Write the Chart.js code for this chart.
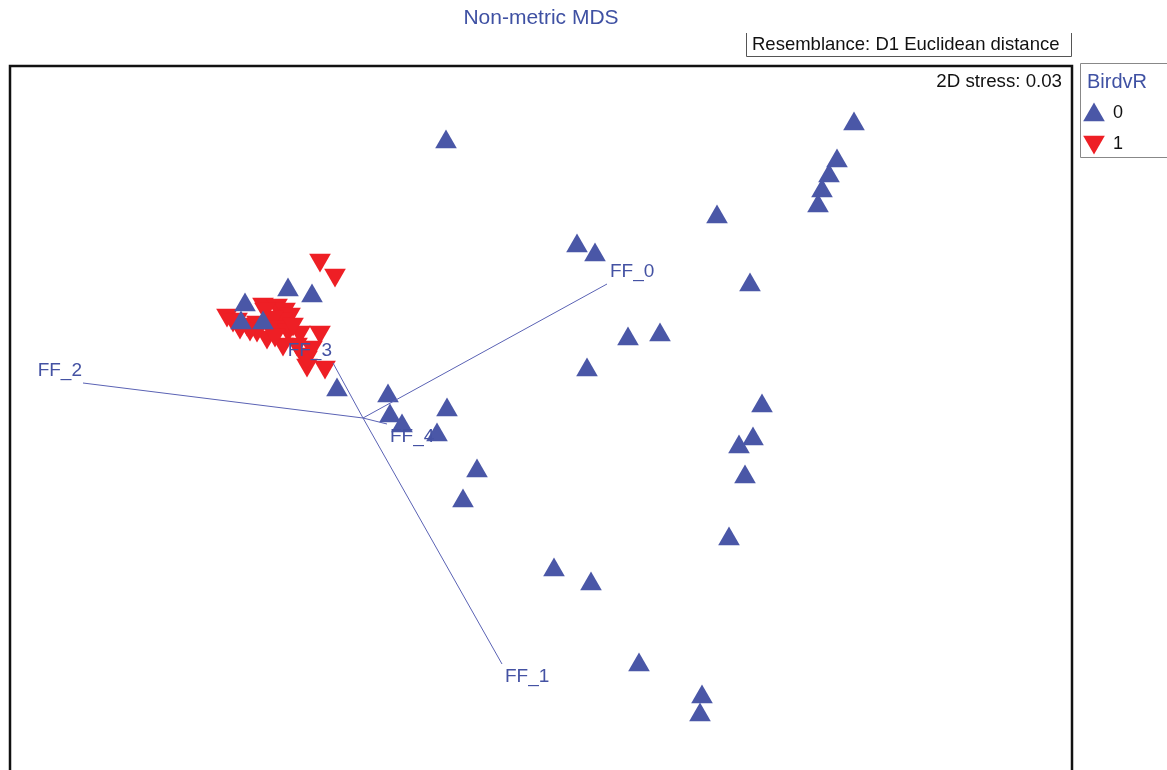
<!DOCTYPE html>
<html>
<head>
<meta charset="utf-8">
<title>Non-metric MDS</title>
<script src="https://cdn.jsdelivr.net/npm/chart.js@4.4.1/dist/chart.umd.min.js"></script>
<style>
body{margin:0;background:#fff;}
canvas{display:block;}
</style>
</head>
<body>
<canvas id="grafico" width="1167" height="770"></canvas>
<script>
// dados (coordenadas MDS)
const grupos = ["0", "1"];

const mds1_g0 = [-0.95, 3.13, 2.96, 2.88, 2.81, 2.77, 1.76, 0.36, 0.54, 2.09, 0.87, 1.19, 0.46, 2.21, 2.12, 1.98, 2.04, 1.88,
    0.13, 0.50, 0.98, 1.61, 1.59, -1.53, -0.94, -1.51, -1.39, -1.04, -0.64, -0.78, -2.04, -2.53, -2.29, -2.96, -3.00, -2.78];
const mds2_g0 = [2.76, 2.94, 2.57, 2.42, 2.27, 2.12, 2.01, 1.72, 1.63, 1.33, 0.79, 0.83, 0.48, 0.12, -0.21, -0.29, -0.59, -1.21,
    -1.52, -1.66, -2.47, -2.79, -2.97, 0.22, 0.08, 0.02, -0.08, -0.17, -0.53, -0.83, 0.28, 1.28, 1.22, 1.13, 0.95, 0.95];

const mds1_g1 = [-2.21, -2.06, -3.14, -3.04, -2.94, -2.78, -2.84, -2.64, -2.56, -2.51, -2.59, -2.68, -2.74, -2.84, -2.64, -2.53,
    -2.41, -2.21, -2.44, -2.38, -2.34, -2.16, -2.58, -2.66, -2.91, -3.01, -3.08, -2.48, -2.34, -2.76, -2.29];
const mds2_g1 = [1.58, 1.43, 1.03, 0.99, 0.94, 1.14, 0.96, 1.13, 1.09, 1.04, 0.99, 1.01, 0.81, 0.88, 0.91, 0.88,
    0.86, 0.86, 0.74, 0.64, 0.53, 0.51, 0.74, 0.83, 0.89, 0.91, 0.98, 0.94, 0.61, 1.09, 0.71];

// vetores (FF_0 ... FF_4)
const vetores = ["FF_0", "FF_1", "FF_2", "FF_3", "FF_4"];
const vetorX = [0.66, -0.39, -4.58, -2.08, -1.54];
const vetorY = [1.34, -2.46, 0.35, 0.55, -0.06];
const centroVetores = [-1.78, 0.00];

const azul = '#4a57a7';
const vermelho = '#ee1f25';
const fonte = '"Liberation Sans", Arial, Helvetica, sans-serif';

function pontos(xs, ys){
    return xs.map(function(x, i){ return {x: x, y: ys[i]}; });
}

function triangulo(ctx, x, y, r, cor, invertido){
    ctx.save();
    ctx.translate(x, y);
    if(invertido) ctx.rotate(Math.PI);
    ctx.beginPath();
    ctx.moveTo(0, -r);
    ctx.lineTo(Math.sin(2*Math.PI/3)*r, r/2);
    ctx.lineTo(-Math.sin(2*Math.PI/3)*r, r/2);
    ctx.closePath();
    ctx.fillStyle = cor;
    ctx.fill();
    ctx.restore();
}

let datasets = [];

vetores.forEach(function(nome, i){
    datasets.push({
        type: 'line',
        label: nome,
        data: [{x: centroVetores[0], y: centroVetores[1]}, {x: vetorX[i], y: vetorY[i]}],
        borderColor: '#5a62b4',
        borderWidth: 1,
        pointRadius: 0,
        fill: false,
        order: 0
    });
});

datasets.push({
    label: grupos[0],
    data: pontos(mds1_g0, mds2_g0),
    backgroundColor: azul,
    borderWidth: 0,
    pointStyle: 'triangle',
    pointRadius: 12.5,
    order: 1
});

datasets.push({
    label: grupos[1],
    data: pontos(mds1_g1, mds2_g1),
    backgroundColor: vermelho,
    borderWidth: 0,
    pointStyle: 'triangle',
    pointRotation: 180,
    pointRadius: 12.5,
    order: 2
});

const extras = {
    id: 'extras',
    afterDatasetsDraw(chart){
        const ctx = chart.ctx;
        const xs = chart.scales.x, ys = chart.scales.y;
        ctx.save();
        ctx.font = '19px ' + fonte;
        ctx.fillStyle = '#4452a3';
        vetores.forEach(function(nome, i){
            let px = xs.getPixelForValue(vetorX[i]);
            let py = ys.getPixelForValue(vetorY[i]);
            let dx = vetorX[i] - centroVetores[0];
            let dy = vetorY[i] - centroVetores[1];
            ctx.textAlign = dx >= 0 ? 'left' : 'right';
            if(dy >= 0){
                ctx.textBaseline = 'bottom';
                ctx.fillText(nome, px + (dx >= 0 ? 3 : -1), py - 3);
            }else{
                ctx.textBaseline = 'top';
                ctx.fillText(nome, px + 3, py + 3);
            }
        });
        ctx.restore();
    },
    afterDraw(chart){
        const ctx = chart.ctx;
        const a = chart.chartArea;
        ctx.save();

        // caixa do grafico
        ctx.strokeStyle = '#111';
        ctx.lineWidth = 2.5;
        ctx.beginPath();
        ctx.moveTo(a.left, chart.height + 5);
        ctx.lineTo(a.left, a.top);
        ctx.lineTo(a.right, a.top);
        ctx.lineTo(a.right, chart.height + 5);
        ctx.stroke();

        // titulo
        ctx.fillStyle = '#3f51a3';
        ctx.font = '21px ' + fonte;
        ctx.textAlign = 'center';
        ctx.textBaseline = 'middle';
        ctx.fillText('Non-metric MDS', (a.left + a.right) / 2, 18);

        // caixa resemblance
        ctx.strokeStyle = '#555';
        ctx.lineWidth = 1;
        ctx.beginPath();
        ctx.moveTo(746.5, 33);
        ctx.lineTo(746.5, 56.5);
        ctx.lineTo(1071.5, 56.5);
        ctx.lineTo(1071.5, 33);
        ctx.stroke();
        ctx.fillStyle = '#111';
        ctx.font = '18.5px ' + fonte;
        ctx.textAlign = 'left';
        ctx.fillText('Resemblance: D1 Euclidean distance', 752, 45);

        // stress
        ctx.textAlign = 'right';
        ctx.font = '18.7px ' + fonte;
        ctx.fillText('2D stress: 0.03', a.right - 10, 82);

        // legenda
        ctx.strokeStyle = '#888';
        ctx.beginPath();
        ctx.moveTo(1180, 63.5);
        ctx.lineTo(1080.5, 63.5);
        ctx.lineTo(1080.5, 157.5);
        ctx.lineTo(1180, 157.5);
        ctx.stroke();
        ctx.fillStyle = '#3f51a3';
        ctx.font = '20px ' + fonte;
        ctx.textAlign = 'left';
        ctx.fillText('BirdvR', 1087, 82);
        triangulo(ctx, 1094, 115, 12.5, azul, false);
        triangulo(ctx, 1094, 142, 12.5, vermelho, true);
        ctx.fillStyle = '#111';
        ctx.font = '18px ' + fonte;
        ctx.fillText(grupos[0], 1113, 113);
        ctx.fillText(grupos[1], 1113, 144);

        ctx.restore();
    }
};

new Chart(document.getElementById('grafico'), {
    type: 'scatter',
    data: { datasets: datasets },
    options: {
        responsive: false,
        devicePixelRatio: 1,
        animation: false,
        layout: { autoPadding: false, padding: { left: 10, top: 66, right: 95, bottom: 0 } },
        scales: {
            x: { type: 'linear', min: -5.31, max: 5.31, display: false },
            y: { type: 'linear', min: -3.52, max: 3.52, display: false }
        },
        plugins: {
            legend: { display: false },
            title: { display: false },
            tooltip: { enabled: false }
        }
    },
    plugins: [extras]
});
</script>
</body>
</html>
